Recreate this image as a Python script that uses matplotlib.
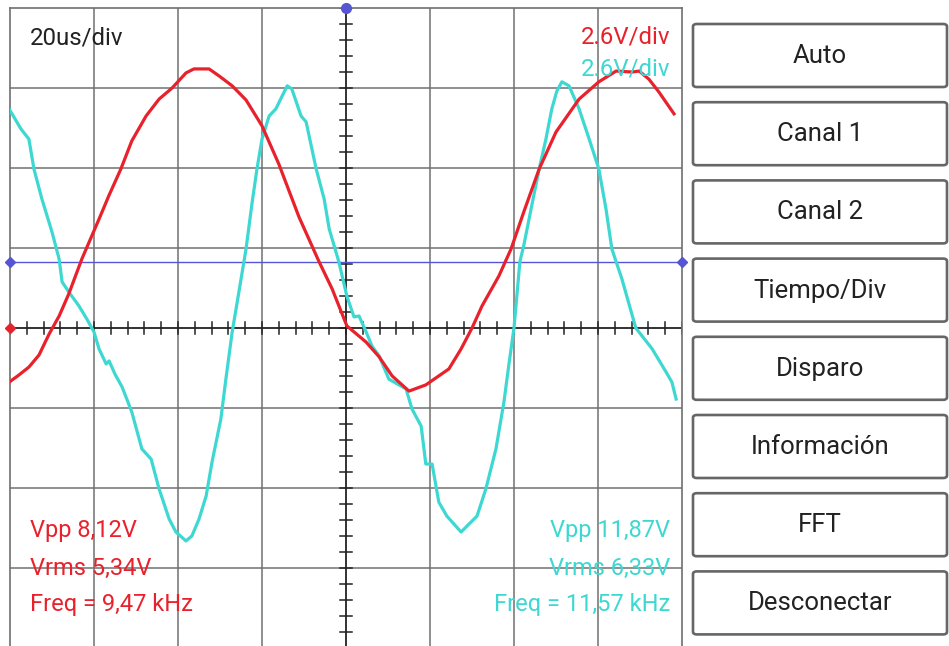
import numpy as np
import matplotlib
matplotlib.use("Agg")
import matplotlib.pyplot as plt
from matplotlib.patches import FancyBboxPatch

plt.rcParams['font.family'] = ['Roboto', 'DejaVu Sans']

# Canal 1 (rojo): tiempo en us, tension en V
t_ch1 = [-80.2, -77.9, -75.5, -73.1, -70.7, -68.3, -66.0, -62.9, -58.8, -56.4,
         -53.6, -51.0, -47.6, -44.5, -41.4, -38.1, -36.2, -32.6, -30.2, -27.1,
         -23.8, -20.0, -16.0, -11.2, -6.4, -3.3, 0.2, 4.8, 7.9, 11.0,
         15.0, 19.0, 24.5, 27.4, 30.0, 32.4, 36.4, 39.3, 42.4, 46.0,
         50.0, 55.5, 60.2, 64.3, 68.1, 69.8, 72.1, 74.5, 78.1]
v_ch1 = [-1.76, -1.53, -1.27, -0.88, -0.20, 0.39, 1.11, 2.24, 3.54, 4.32,
         5.17, 6.08, 6.89, 7.44, 7.80, 8.29, 8.42, 8.42, 8.19, 7.87,
         7.41, 6.57, 5.33, 3.61, 2.15, 1.27, 0.07, -0.46, -0.94, -1.56,
         -2.05, -1.85, -1.33, -0.68, 0.00, 0.72, 1.69, 2.57, 3.80, 5.17,
         6.37, 7.44, 8.00, 8.35, 8.32, 8.35, 8.09, 7.67, 6.96]

# Canal 2 (cian)
t_ch2 = [-80.2, -77.4, -75.5, -74.3, -72.4, -70.0, -68.3, -67.6, -66.0, -63.6,
         -61.7, -60.0, -58.8, -57.1, -56.4, -55.0, -53.3, -51.0, -48.6, -46.4,
         -44.5, -42.1, -40.5, -38.1, -36.7, -35.0, -33.3, -31.9, -29.8, -28.6,
         -27.1, -25.5, -23.8, -22.4, -21.2, -20.0, -18.3, -16.7, -15.2, -14.0,
         -12.9, -10.7, -9.5, -7.1, -5.2, -4.0, -1.7, 0.2, 1.9, 3.1,
         4.8, 6.2, 7.9, 10.2, 14.3, 15.7, 17.9, 19.0, 20.5, 22.1,
         24.0, 27.4, 31.2, 33.3, 35.7, 37.6, 38.8, 40.0, 41.4, 42.4,
         44.3, 46.0, 47.6, 49.0, 50.2, 51.4, 53.1, 55.5, 57.9, 60.2,
         61.9, 63.3, 65.7, 69.0, 72.9, 76.2, 77.6, 78.6]
v_ch2 = [7.12, 6.47, 6.14, 5.17, 4.19, 3.12, 2.24, 1.50, 1.17, 0.72,
         0.29, -0.13, -0.68, -1.17, -1.07, -1.50, -1.92, -2.73, -3.93, -4.26,
         -5.23, -6.21, -6.63, -6.92, -6.76, -6.21, -5.46, -4.36, -2.96, -1.66,
         -0.13, 1.17, 2.57, 4.03, 5.17, 6.14, 6.89, 7.12, 7.54, 7.87,
         7.77, 6.89, 6.70, 5.17, 4.19, 3.22, 2.15, 1.04, 0.36, 0.39,
         -0.13, -0.59, -0.91, -1.66, -1.98, -2.63, -3.19, -4.42, -4.42, -5.66,
         -6.11, -6.63, -6.11, -5.23, -3.93, -2.41, -1.17, 0.00, 2.15, 2.73,
         4.03, 5.17, 6.14, 7.12, 7.70, 8.00, 7.87, 7.12, 6.14, 5.17,
         3.87, 2.57, 1.59, 0.00, -0.68, -1.43, -1.76, -2.31]

t_div = 20.0      # us/div
v_div = 2.6       # V/div
trigger_level = 2.15
info_ch1 = ["Vpp 8,12V", "Vrms 5,34V", "Freq = 9,47 kHz"]
info_ch2 = ["Vpp 11,87V", "Vrms 6,33V", "Freq = 11,57 kHz"]
botones = ["Auto", "Canal 1", "Canal 2", "Tiempo/Div", "Disparo",
           "Información", "FFT", "Desconectar"]

rojo = '#e8222c'
cian = '#3ed8d2'
W, H = 949, 646

fig = plt.figure(figsize=(W / 100, H / 100), dpi=100)
ax = fig.add_axes([10 / W, -2 / H, 672 / W, 640 / H])
ax.set_xlim(-4 * t_div, 4 * t_div)
ax.set_ylim(-4 * v_div, 4 * v_div)
ax.set_xticks([])
ax.set_yticks([])
for s in ax.spines.values():
    s.set_color('#707070')
    s.set_linewidth(1.2)

# reticula
for k in range(-3, 4):
    if k == 0:
        continue
    ax.axvline(k * t_div, color='#707070', lw=1.1, zorder=1)
    ax.axhline(k * v_div, color='#707070', lw=1.1, zorder=1)
ax.axhline(0, color='#222222', lw=1.3, zorder=1)
ax.axvline(0, color='#222222', lw=1.3, zorder=1)
for xt in np.arange(-4 * t_div, 4 * t_div + 0.1, t_div / 5):
    ax.plot([xt, xt], [-0.2, 0.2], color='#222222', lw=1.1, zorder=1)
for yt in np.arange(-4 * v_div, 4 * v_div + 0.01, v_div / 5):
    ax.plot([-1.4, 1.4], [yt, yt], color='#222222', lw=1.1, zorder=1)

# nivel de disparo
ax.axhline(trigger_level, color='#5555d5', lw=1.0, zorder=2)
ax.plot([-4 * t_div, 4 * t_div], [trigger_level, trigger_level], 'D',
        color='#5555d5', ms=5, clip_on=False, zorder=5)
ax.plot([0], [4 * v_div], 'o', color='#5555d5', ms=7, clip_on=False, zorder=5)
ax.plot([-4 * t_div], [0], 'D', color=rojo, ms=5, clip_on=False, zorder=5)

ax.plot(t_ch2, v_ch2, color=cian, lw=2.3, zorder=3, solid_joinstyle='round')
ax.plot(t_ch1, v_ch1, color=rojo, lw=2.3, zorder=4, solid_joinstyle='round')

# textos
def ftext(x, y, s, **kw):
    fig.text(x / W, 1 - y / H, s, va='center', **kw)

ftext(30, 38, f"{t_div:g}us/div", color='#222222', fontsize=17.3)
ftext(670, 37, f"{v_div:g}V/div", color=rojo, fontsize=17.3, ha='right')
ftext(670, 69, f"{v_div:g}V/div", color=cian, fontsize=17.3, ha='right')
for i, (a, b) in enumerate(zip(info_ch1, info_ch2)):
    y = 531 + i * 37
    ftext(30, y, a, color=rojo, fontsize=17)
    ftext(670, y, b, color=cian, fontsize=17, ha='right')

# botones
for i, nombre in enumerate(botones):
    y0 = 24 + i * 78.2
    box = FancyBboxPatch((693 / W, 1 - (y0 + 63) / H), 254 / W, 63 / H,
                         boxstyle='round,pad=0,rounding_size=0.004',
                         transform=fig.transFigure, facecolor='white',
                         edgecolor='#666666', lw=1.9)
    fig.patches.append(box)
    ftext(820, y0 + 32, nombre, color='#222222', fontsize=18.5, ha='center')

fig.savefig('out.png', dpi=100)
